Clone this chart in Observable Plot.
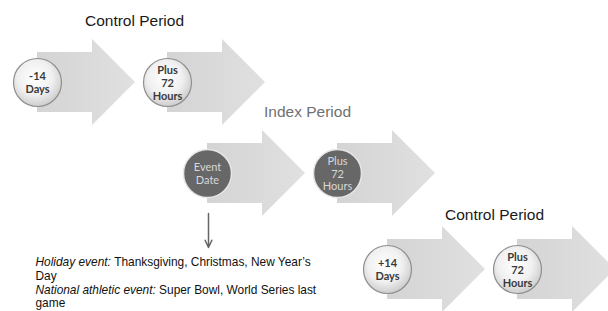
<!DOCTYPE html>
<html>
<head>
<meta charset="utf-8">
<script src="https://cdn.jsdelivr.net/npm/d3@7"></script>
<script src="https://cdn.jsdelivr.net/npm/@observablehq/plot@0.6"></script>
<style>
  html, body { margin: 0; padding: 0; background: #fff; overflow: hidden; }
</style>
</head>
<body>
<div id="chart"></div>
<script>
// ---- data ----
const periodTitles = ["Control Period", "Index Period", "Control Period"];
const stepLabels = [
  ["-14\nDays", "Plus\n72\nHours"],
  ["Event\nDate", "Plus\n72\nHours"],
  ["+14\nDays", "Plus\n72\nHours"]
];
const highlightedPeriod = [false, true, false];
const noteItalic = ["Holiday event:", "", "National athletic event:", ""];
const notePlain = ["Thanksgiving, Christmas, New Year\u2019s", "Day", "Super Bowl, World Series last", "game"];

// ---- layout (separate from data) ----
const W = 608, H = 311;
const groupOrigin = [[37, 82], [207, 173], [387, 269]];
const titlePos = [[134, 21], [307, 112], [494, 215]];
const stepDx = 130, bodyLen = 55, headLen = 43, bodyHalf = 30, headHalf = 43, circleR = 24;
const noteX = 35, noteY0 = 262, noteDy = 13.7, noteSize = 11.9;
const noteFont = noteSize + "px 'Liberation Sans', Arial, sans-serif";

const arrows = [], circles = [], titles = [];
periodTitles.forEach((t, g) => {
  titles.push({text: t, x: titlePos[g][0], y: titlePos[g][1], hi: highlightedPeriod[g]});
  stepLabels[g].forEach((lab, s) => {
    const cx = groupOrigin[g][0] + s * stepDx, cy = groupOrigin[g][1];
    const id = g + "-" + s;
    arrows.push({id, x: cx, top: cy - bodyHalf, bottom: cy + bodyHalf});
    arrows.push({id, x: cx + bodyLen, top: cy - bodyHalf, bottom: cy + bodyHalf});
    arrows.push({id, x: cx + bodyLen, top: cy - headHalf, bottom: cy + headHalf});
    arrows.push({id, x: cx + bodyLen + headLen, top: cy, bottom: cy});
    circles.push({x: cx, y: cy, label: lab, hi: highlightedPeriod[g]});
  });
});

// measure italic widths for mixed-style note lines
const ctx = document.createElement("canvas").getContext("2d");
function tw(str, font) { ctx.font = font; return ctx.measureText(str).width; }
const notes = [];
noteItalic.forEach((it, i) => {
  const y = noteY0 + i * noteDy;
  if (it) notes.push({text: it, x: noteX, y, italic: true});
  const off = it ? tw(it, "italic " + noteFont) + tw(" ", noteFont) : 0;
  notes.push({text: notePlain[i], x: noteX + off, y, italic: false});
});

const evt = groupOrigin[1];
const pointer = [{x: evt[0] + 1, y1: evt[1] + 40, y2: evt[1] + 74}];

const plot = Plot.plot({
  width: W, height: H, margin: 0,
  x: {domain: [0, W], axis: null},
  y: {domain: [0, H], reverse: true, axis: null},
  style: {background: "#fff", fontFamily: "'Liberation Sans', Arial, sans-serif"},
  marks: [
    Plot.areaY(arrows, {x: "x", y1: "top", y2: "bottom", z: "id", curve: "linear", fill: "url(#arrowGrad)"}),
    Plot.dot(circles.filter(d => !d.hi), {x: "x", y: "y", r: circleR, fill: "url(#lightGrad)", stroke: "#8f8f8f", strokeWidth: 1.2}),
    Plot.dot(circles.filter(d => d.hi), {x: "x", y: "y", r: circleR, fill: "#676767", stroke: "#e6e6e6", strokeWidth: 1.5}),
    Plot.text(circles.filter(d => !d.hi), {x: "x", y: "y", text: "label", fontFamily: "Lato, 'Open Sans', sans-serif", fontWeight: "bold", fontSize: 11, lineHeight: 1.18, fill: "#3a3a3a"}),
    Plot.text(circles.filter(d => d.hi), {x: "x", y: "y", text: "label", fontFamily: "Lato, 'Open Sans', sans-serif", fontSize: 11, lineHeight: 1.15, fill: "#d8d8d8"}),
    Plot.text(titles.filter(d => !d.hi), {x: "x", y: "y", text: "text", fontSize: 15.5, fill: "#1a1a1a"}),
    Plot.text(titles.filter(d => d.hi), {x: "x", y: "y", text: "text", fontSize: 15.5, fill: "#707070"}),
    Plot.arrow(pointer, {x1: "x", x2: "x", y1: "y1", y2: "y2", stroke: "#666", strokeWidth: 1.5, headLength: 8, headAngle: 50}),
    Plot.text(notes.filter(d => d.italic), {x: "x", y: "y", text: "text", textAnchor: "start", fontSize: noteSize, fontStyle: "italic", fill: "#111"}),
    Plot.text(notes.filter(d => !d.italic), {x: "x", y: "y", text: "text", textAnchor: "start", fontSize: noteSize, fill: "#111"})
  ]
});

// gradients
const defs = d3.select(plot).insert("defs", ":first-child");
const ag = defs.append("linearGradient").attr("id", "arrowGrad").attr("x1", "0").attr("x2", "1").attr("y1", "0").attr("y2", "0");
ag.append("stop").attr("offset", "0").attr("stop-color", "#d4d4d4");
ag.append("stop").attr("offset", "1").attr("stop-color", "#e0e0e0");
const lg = defs.append("radialGradient").attr("id", "lightGrad").attr("cx", "0.45").attr("cy", "0.4").attr("r", "0.6");
lg.append("stop").attr("offset", "0").attr("stop-color", "#ffffff");
lg.append("stop").attr("offset", "0.6").attr("stop-color", "#f0f0f0");
lg.append("stop").attr("offset", "1").attr("stop-color", "#cdcdcd");

document.getElementById("chart").appendChild(plot);
</script>
</body>
</html>
